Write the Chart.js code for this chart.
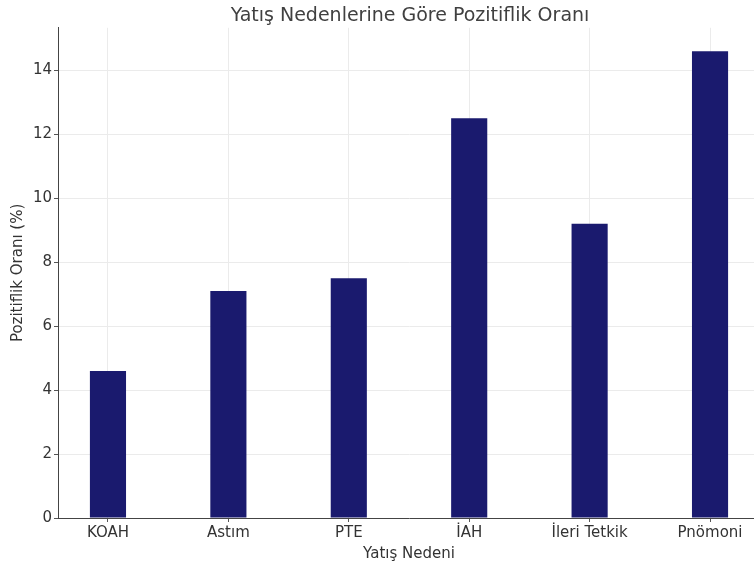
<!DOCTYPE html>
<html>
<head>
<meta charset="utf-8">
<script src="https://cdn.jsdelivr.net/npm/chart.js@4.4.1/dist/chart.umd.min.js"></script>
<style>
  html, body { margin: 0; padding: 0; background: #fff; overflow: hidden; width: 754px; height: 563px; }
  #wrap { width: 820px; height: 563px; }
</style>
</head>
<body>
<div id="wrap"><canvas id="c" width="820" height="563"></canvas></div>
<script>
const categories = ['KOAH', 'Astım', 'PTE', 'İAH', 'İleri Tetkik', 'Pnömoni'];
const values = [4.6, 7.1, 7.5, 12.5, 9.2, 14.6];
const yTicks = [0, 2, 4, 6, 8, 10, 12, 14];

const FONT = "'DejaVu Sans', sans-serif";
const points = categories.map((c, i) => ({ x: i, y: values[i] }));

new Chart(document.getElementById('c'), {
  type: 'bar',
  data: {
    datasets: [{
      data: points,
      backgroundColor: '#1a1a6e',
      borderColor: '#1a1a6e',
      borderWidth: 0,
      barPercentage: 0.3,
      categoryPercentage: 1.0
    }]
  },
  options: {
    responsive: false,
    animation: false,
    layout: { padding: 0 },
    plugins: {
      legend: { display: false },
      tooltip: { enabled: false },
      title: {
        display: true,
        text: 'Yatış Nedenlerine Göre Pozitiflik Oranı',
        color: '#404040',
        font: { family: FONT, size: 19, weight: 'normal', lineHeight: 1.2 },
        padding: { top: 5, bottom: 0 }
      }
    },
    scales: {
      x: {
        type: 'linear',
        min: -0.415,
        max: 5.415,
        offset: false,
        afterFit: s => { s.height = 45; },
        afterBuildTicks: s => { s.ticks = categories.map((c, i) => ({ value: i })); },
        ticks: {
          callback: v => categories[v] ?? '',
          color: '#333',
          font: { family: FONT, size: 15 },
          padding: 2,
          maxRotation: 0,
          autoSkip: false
        },
        grid: { offset: false, color: '#ebebeb', lineWidth: 1, tickLength: 4, tickColor: '#555' },
        border: { display: true, color: '#444', width: 1 },
        title: {
          display: true,
          text: 'Yatış Nedeni',
          color: '#333',
          font: { family: FONT, size: 15, lineHeight: 1.2 },
          padding: { top: 4, bottom: 0 }
        }
      },
      y: {
        min: 0,
        max: 15.33,
        afterFit: s => { s.width = 58; },
        afterBuildTicks: s => { s.ticks = yTicks.map(v => ({ value: v })); },
        ticks: {
          color: '#333',
          font: { family: FONT, size: 15 },
          padding: 2,
          includeBounds: false
        },
        grid: { offset: false, color: '#ebebeb', lineWidth: 1, tickLength: 4, tickColor: '#555' },
        border: { display: true, color: '#444', width: 1 },
        title: {
          display: true,
          text: 'Pozitiflik Oranı (%)',
          color: '#333',
          font: { family: FONT, size: 15, lineHeight: 1.2 },
          padding: { top: 9, bottom: 0 }
        }
      },
      yRight: {
        position: 'right',
        min: 0,
        max: 15.33,
        afterFit: s => { s.width = 60; },
        ticks: { display: false },
        grid: { display: false, drawOnChartArea: false },
        border: { display: false }
      }
    }
  }
});
</script>
</body>
</html>
